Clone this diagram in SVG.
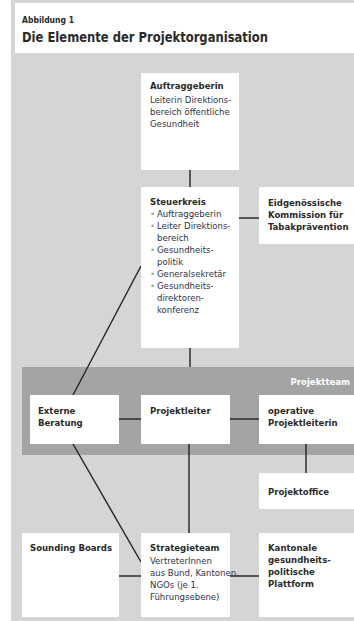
<svg xmlns="http://www.w3.org/2000/svg" width="354" height="621" viewBox="0 0 354 621">
<style>
.t{font-family:"DejaVu Sans Condensed","Liberation Sans Narrow","Liberation Sans",sans-serif;font-size:9.5px;fill:#2f3248}
.b{font-weight:bold;fill:#2b2a29}
.box{fill:#fff}
.c{stroke:#222;stroke-width:1.4;fill:none}
.bu{fill:#a0a0a6}
</style>
<rect x="0" y="0" width="354" height="621" fill="#fff"/>
<rect x="11" y="0" width="343" height="621" fill="#d4d5d7"/>
<rect x="15" y="3" width="339" height="50" fill="#fff"/>
<text class="t b" x="22" y="23" style="font-size:9px" textLength="52" lengthAdjust="spacingAndGlyphs">Abbildung 1</text>
<text class="t b" x="22" y="42" style="font-size:14px" textLength="246" lengthAdjust="spacingAndGlyphs">Die Elemente der Projektorganisation</text>
<g id="projektteam">
<rect x="22" y="367" width="332" height="88" fill="#a3a4a6"/>
<text class="t b" x="350" y="385" text-anchor="end" style="fill:#fff">Projektteam</text>
</g>
<g id="connectors">
<line class="c" x1="190" y1="170" x2="190" y2="187"/>
<line class="c" x1="239" y1="218" x2="259" y2="218"/>
<line class="c" x1="190" y1="348" x2="190" y2="367"/>
<line class="c" x1="141" y1="266" x2="73" y2="395"/>
<line class="c" x1="119" y1="419" x2="141" y2="419"/>
<line class="c" x1="230" y1="419" x2="259" y2="419"/>
<line class="c" x1="73" y1="444" x2="141" y2="562"/>
<line class="c" x1="189" y1="444" x2="189" y2="533"/>
<line class="c" x1="306" y1="444" x2="306" y2="473"/>
<line class="c" x1="119" y1="576" x2="141" y2="576"/>
<line class="c" x1="230" y1="576" x2="259" y2="576"/>
</g>
<g id="auftraggeberin">
<rect class="box" x="141" y="73" width="98" height="97"/>
<text class="t b" x="150" y="89">Auftraggeberin</text>
<text class="t" x="150" y="103">Leiterin Direktions-</text>
<text class="t" x="150" y="115">bereich öffentliche</text>
<text class="t" x="150" y="127">Gesundheit</text>
</g>
<g id="steuerkreis">
<rect class="box" x="141" y="187" width="98" height="161"/>
<text class="t b" x="150" y="205">Steuerkreis</text>
<text class="t bu" x="150" y="217">•</text><text class="t" x="157" y="217">Auftraggeberin</text>
<text class="t bu" x="150" y="229">•</text><text class="t" x="157" y="229">Leiter Direktions-</text>
<text class="t" x="157" y="241">bereich</text>
<text class="t bu" x="150" y="253">•</text><text class="t" x="157" y="253">Gesundheits-</text>
<text class="t" x="157" y="265">politik</text>
<text class="t bu" x="150" y="277">•</text><text class="t" x="157" y="277">Generalsekretär</text>
<text class="t bu" x="150" y="289">•</text><text class="t" x="157" y="289">Gesundheits-</text>
<text class="t" x="157" y="301">direktoren-</text>
<text class="t" x="157" y="313">konferenz</text>
</g>
<g id="eidgenoessische">
<rect class="box" x="259" y="187" width="95" height="57"/>
<text class="t b" x="268" y="206">Eidgenössische</text>
<text class="t b" x="268" y="218">Kommission für</text>
<text class="t b" x="268" y="230">Tabakprävention</text>
</g>
<g id="externe">
<rect class="box" x="30" y="395" width="89" height="49"/>
<text class="t b" x="38" y="414">Externe</text>
<text class="t b" x="38" y="426">Beratung</text>
</g>
<g id="projektleiter">
<rect class="box" x="141" y="395" width="89" height="49"/>
<text class="t b" x="150" y="414">Projektleiter</text>
</g>
<g id="operative">
<rect class="box" x="259" y="395" width="95" height="49"/>
<text class="t b" x="268" y="414">operative</text>
<text class="t b" x="268" y="426">Projektleiterin</text>
</g>
<g id="projektoffice">
<rect class="box" x="259" y="473" width="95" height="36"/>
<text class="t b" x="268" y="495">Projektoffice</text>
</g>
<g id="sounding">
<rect class="box" x="22" y="533" width="97" height="84"/>
<text class="t b" x="30" y="551">Sounding Boards</text>
</g>
<g id="strategieteam">
<rect class="box" x="141" y="533" width="89" height="84"/>
<text class="t b" x="150" y="551">Strategieteam</text>
<text class="t" x="150" y="564">VertreterInnen</text>
<text class="t" x="150" y="576">aus Bund, Kantonen,</text>
<text class="t" x="150" y="588">NGOs (je 1.</text>
<text class="t" x="150" y="600">Führungsebene)</text>
</g>
<g id="kantonale">
<rect class="box" x="259" y="533" width="95" height="84"/>
<text class="t b" x="268" y="551">Kantonale</text>
<text class="t b" x="268" y="563">gesundheits-</text>
<text class="t b" x="268" y="575">politische</text>
<text class="t b" x="268" y="587">Plattform</text>
</g>
</svg>
